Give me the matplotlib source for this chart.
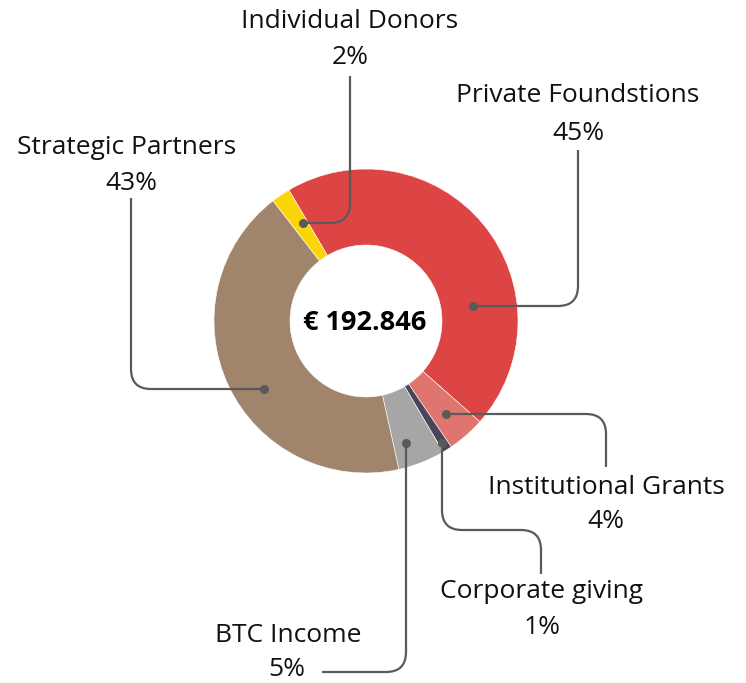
import matplotlib
matplotlib.use("Agg")
import matplotlib.pyplot as plt
from matplotlib.path import Path
from matplotlib.patches import PathPatch
import numpy as np

# Data
categories = ["Private Foundstions", "Institutional Grants", "Corporate giving",
              "BTC Income", "Strategic Partners", "Individual Donors"]
values = [45, 4, 1, 5, 43, 2]
colors = ["#DD4444", "#E07570", "#4A4558", "#A6A6A6", "#A0846B", "#FBD50A"]
total_label = "€ 192.846"

W, H = 746, 683
fig = plt.figure(figsize=(W / 100, H / 100), dpi=100)
ax = fig.add_axes([0, 0, 1, 1])

cx, cy = 366, H - 321
R = 152
ax.pie(values, colors=colors, startangle=120.5, counterclock=False,
       radius=R, center=(cx, cy),
       wedgeprops=dict(width=76, edgecolor="white", linewidth=0.4))
ax.set_xlim(0, W)
ax.set_ylim(0, H)
ax.set_aspect("auto")
ax.axis("off")

ax.text(cx - 1, H - 323, total_label, ha="center", va="center",
        fontsize=19.5, fontweight="bold", family="Open Sans", color="black")

line_color = "#5A5A5A"


def rounded(points, r=18):
    pts = [np.array([p[0], H - p[1]], float) for p in points]
    verts = [pts[0]]
    codes = [Path.MOVETO]
    for i in range(1, len(pts) - 1):
        p0, p1, p2 = pts[i - 1], pts[i], pts[i + 1]
        d1 = (p0 - p1) / np.linalg.norm(p0 - p1)
        d2 = (p2 - p1) / np.linalg.norm(p2 - p1)
        a = p1 + d1 * r
        b = p1 + d2 * r
        verts += [a, p1, b]
        codes += [Path.LINETO, Path.CURVE3, Path.CURVE3]
    verts.append(pts[-1])
    codes.append(Path.LINETO)
    return Path(verts, codes)


# leader lines (pixel coordinates, y downward)
leaders = [
    [(473, 306), (578, 306), (578, 150)],            # Private Foundstions
    [(446, 414), (606, 414), (606, 467)],            # Institutional Grants
    [(442, 443), (442, 530), (541, 530), (541, 574)],  # Corporate giving
    [(406, 443), (406, 672), (322, 672)],            # BTC Income
    [(264, 389), (131, 389), (131, 198)],            # Strategic Partners
    [(303, 223), (350, 223), (350, 76)],             # Individual Donors
]
for pts in leaders:
    ax.add_patch(PathPatch(rounded(pts, 20), fill=False, edgecolor=line_color,
                           linewidth=1.6, capstyle="butt"))
    ax.plot(pts[0][0], H - pts[0][1], "o", color=line_color, markersize=6.5,
            markeredgewidth=0)

# labels: (name center x, name y, pct center x, pct y)
label_pos = [
    (578, 96, 578, 133),
    (606, 487, 606, 522),
    (542, 592, 542, 628),
    (288, 635, 287, 670),
    (127, 147, 131, 183),
    (350, 22, 350, 58),
]
for name, v, (x1, y1, x2, y2) in zip(categories, values, label_pos):
    ax.text(x1, H - y1, name, ha="center", va="center", fontsize=19,
            family="Open Sans", color="#111111")
    ax.text(x2, H - y2, f"{v}%", ha="center", va="center", fontsize=19,
            family="Open Sans", color="#111111")

fig.savefig("out.png", dpi=100)
